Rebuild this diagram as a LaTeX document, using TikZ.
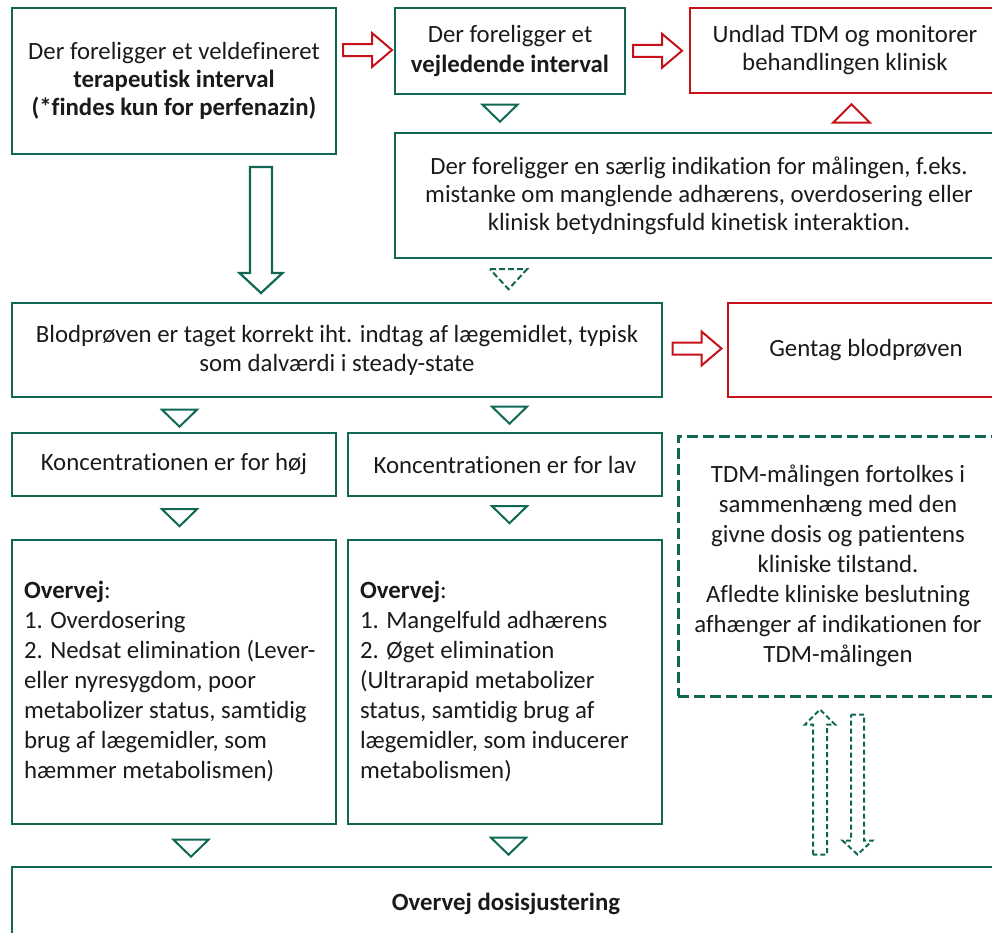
\documentclass[tikz,border=0pt]{standalone}
\usepackage{fontspec}
\setmainfont{Carlito}[Ligatures=NoCommon]
\usetikzlibrary{calc}
\definecolor{dgreen}{RGB}{16,104,84}
\definecolor{dred}{RGB}{200,16,24}
\definecolor{txt}{RGB}{26,26,26}
\tikzset{
  gbox/.style={draw=dgreen, line width=2.4pt, rectangle, text=txt, align=center, inner sep=0pt},
  rbox/.style={draw=dred, line width=2.4pt, rectangle, text=txt, align=center, inner sep=0pt},
  dbox/.style={draw=dgreen, line width=3pt, dash pattern=on 11pt off 5pt, rectangle, text=txt, align=center, inner sep=0pt},
  fa/.style={font=\fontsize{24.8}{28}\selectfont},
  fb/.style={font=\fontsize{24.8}{30}\selectfont},
  gtri/.style={draw=dgreen, line width=2pt, line join=miter},
  rtri/.style={draw=dred, line width=2pt, line join=miter},
  rarr/.style={draw=dred, line width=2pt, line join=miter},
  garr/.style={draw=dgreen, line width=2.2pt, line join=miter},
  darr/.style={draw=dgreen, line width=2pt, dash pattern=on 5pt off 3pt},
  dtri/.style={draw=dgreen, line width=2pt, dash pattern=on 6pt off 3pt},
}
\begin{document}
\begin{tikzpicture}[x=1pt,y=-1pt]
\useasboundingbox (0,0) rectangle (992,932);
\clip (0,0) rectangle (992,932);
% boxes
\node[gbox, fa, minimum width=324pt, minimum height=146pt] (A) at (174,81)
  {Der foreligger et veldefineret\\ \textbf{terapeutisk interval}\\ \textbf{(*findes kun for perfenazin)}};
\node[gbox, fb, minimum width=230pt, minimum height=86pt] (B) at (510,51)
  {Der foreligger et\\ \textbf{vejledende interval}};
\node[rbox, fa, minimum width=310pt, minimum height=85pt] (C) at (845,50.5)
  {Undlad TDM og monitorer\\ behandlingen klinisk};
\node[gbox, fa, minimum width=608pt, minimum height=125pt] (D) at (699,195.5)
  {Der foreligger en særlig indikation for målingen, f.eks.\\ mistanke om manglende adhærens, overdosering eller\\ klinisk betydningsfuld kinetisk interaktion.};
\node[gbox, font=\fontsize{24.8}{29}\selectfont, minimum width=650pt, minimum height=94pt] (E) at (337,350)
  {Blodprøven er taget korrekt iht. indtag af lægemidlet, typisk\\ som dalværdi i steady-state};
\node[rbox, fa, minimum width=276pt, minimum height=94pt] (F) at (866,350)
  {Gentag blodprøven};
\node[gbox, fa, minimum width=324pt, minimum height=63pt] (G) at (174,464.5)
  {Koncentrationen er for høj};
\node[gbox, fa, minimum width=314pt, minimum height=63pt] (H) at (505,464.5)
  {Koncentrationen er for lav};
\node[dbox, fb, minimum width=320pt, minimum height=260pt] (I) at (838,566)
  {TDM-målingen fortolkes i\\ sammenhæng med den\\ givne dosis og patientens\\ kliniske tilstand.\\ Afledte kliniske beslutning\\ afhænger af indikationen for\\ TDM-målingen};
\node[gbox, fb, minimum width=324pt, minimum height=284pt, text width=300pt, align=flush left, inner xsep=12pt] (J) at (174,682)
  {\textbf{Overvej}:\\ 1. Overdosering\\ 2. Nedsat elimination (Lever-\\ eller nyresygdom, poor\\ metabolizer status, samtidig\\ brug af lægemidler, som\\ hæmmer metabolismen)};
\node[gbox, fb, minimum width=314pt, minimum height=284pt, text width=290pt, align=flush left, inner xsep=12pt] (K) at (505,682)
  {\textbf{Overvej}:\\ 1. Mangelfuld adhærens\\ 2. Øget elimination\\ (Ultrarapid metabolizer\\ status, samtidig brug af\\ lægemidler, som inducerer\\ metabolismen)};
\node[gbox, fa, minimum width=988pt, minimum height=73pt] (L) at (506,903.5)
  {\textbf{Overvej dosisjustering}};
% red block arrows
\coordinate (r1) at ($(A.east|-B.west)!0.5!(B.west)+(2,-1)$);
\coordinate (r2) at ($(B.east)!0.5!(C.west)$);
\coordinate (r3) at ($(E.east)!0.5!(F.west)+(2,-1.5)$);
\foreach \c in {r1,r2,r3}
  \draw[rarr, shift={(\c)}] (-24.5,-6) -- (4.5,-6) -- (4.5,-17) -- (24.5,0) -- (4.5,17) -- (4.5,6) -- (-24.5,6) -- cycle;
% big green down arrow
\coordinate (g1) at ($(A.south)!0.5!(E.north)+(5.5,1.5)$);
\draw[garr, shift={(g1)}] (-11,-63) -- (11,-63) -- (11,43) -- (21.5,43) -- (0,63) -- (-21.5,43) -- (-11,43) -- cycle;
% triangles
\coordinate (t1) at ($(B.south)+(-10,18)$);
\coordinate (t2) at ($(E.south-|G.north)+(5.5,20)$);
\coordinate (t3) at ($(E.south-|H.north)+(4.5,17)$);
\coordinate (t4) at ($(G.south)+(5.5,20.5)$);
\coordinate (t5) at ($(H.south)+(4.5,17.5)$);
\coordinate (t6) at ($(J.south)+(17,23)$);
\coordinate (t7) at ($(K.south)+(3.5,21)$);
\foreach \c in {t1,t2,t3,t4,t5,t6,t7}
  \draw[gtri, shift={(\c)}] (-17.5,-8.5) -- (17.5,-8.5) -- (0,8.5) -- cycle;
\coordinate (t8) at ($(C.south)+(6.5,19.5)$);
\draw[rtri, shift={(t8)}] (-18.5,9) -- (18.5,9) -- (0,-9.5) -- cycle;
\coordinate (t9) at ($(D.south-|B.south)+(-1.5,20)$);
\draw[dtri, shift={(t9)}] (-18.5,-10) -- (18.5,-10) -- (0,10) -- cycle;
% dashed double arrows
\coordinate (u1) at ($(I.south)+(-18,84.5)$);
\draw[darr, shift={(u1)}] (-7,72.5) -- (-7,-57.5) -- (-15,-57.5) -- (0,-72.5) -- (15,-57.5) -- (7,-57.5) -- (7,72.5) -- cycle;
\coordinate (u2) at ($(I.south)+(19.5,87)$);
\draw[darr, shift={(u2)}] (-6.5,-70) -- (6.5,-70) -- (6.5,56) -- (15,56) -- (0,70) -- (-15,56) -- (-6.5,56) -- cycle;
\end{tikzpicture}
\end{document}
